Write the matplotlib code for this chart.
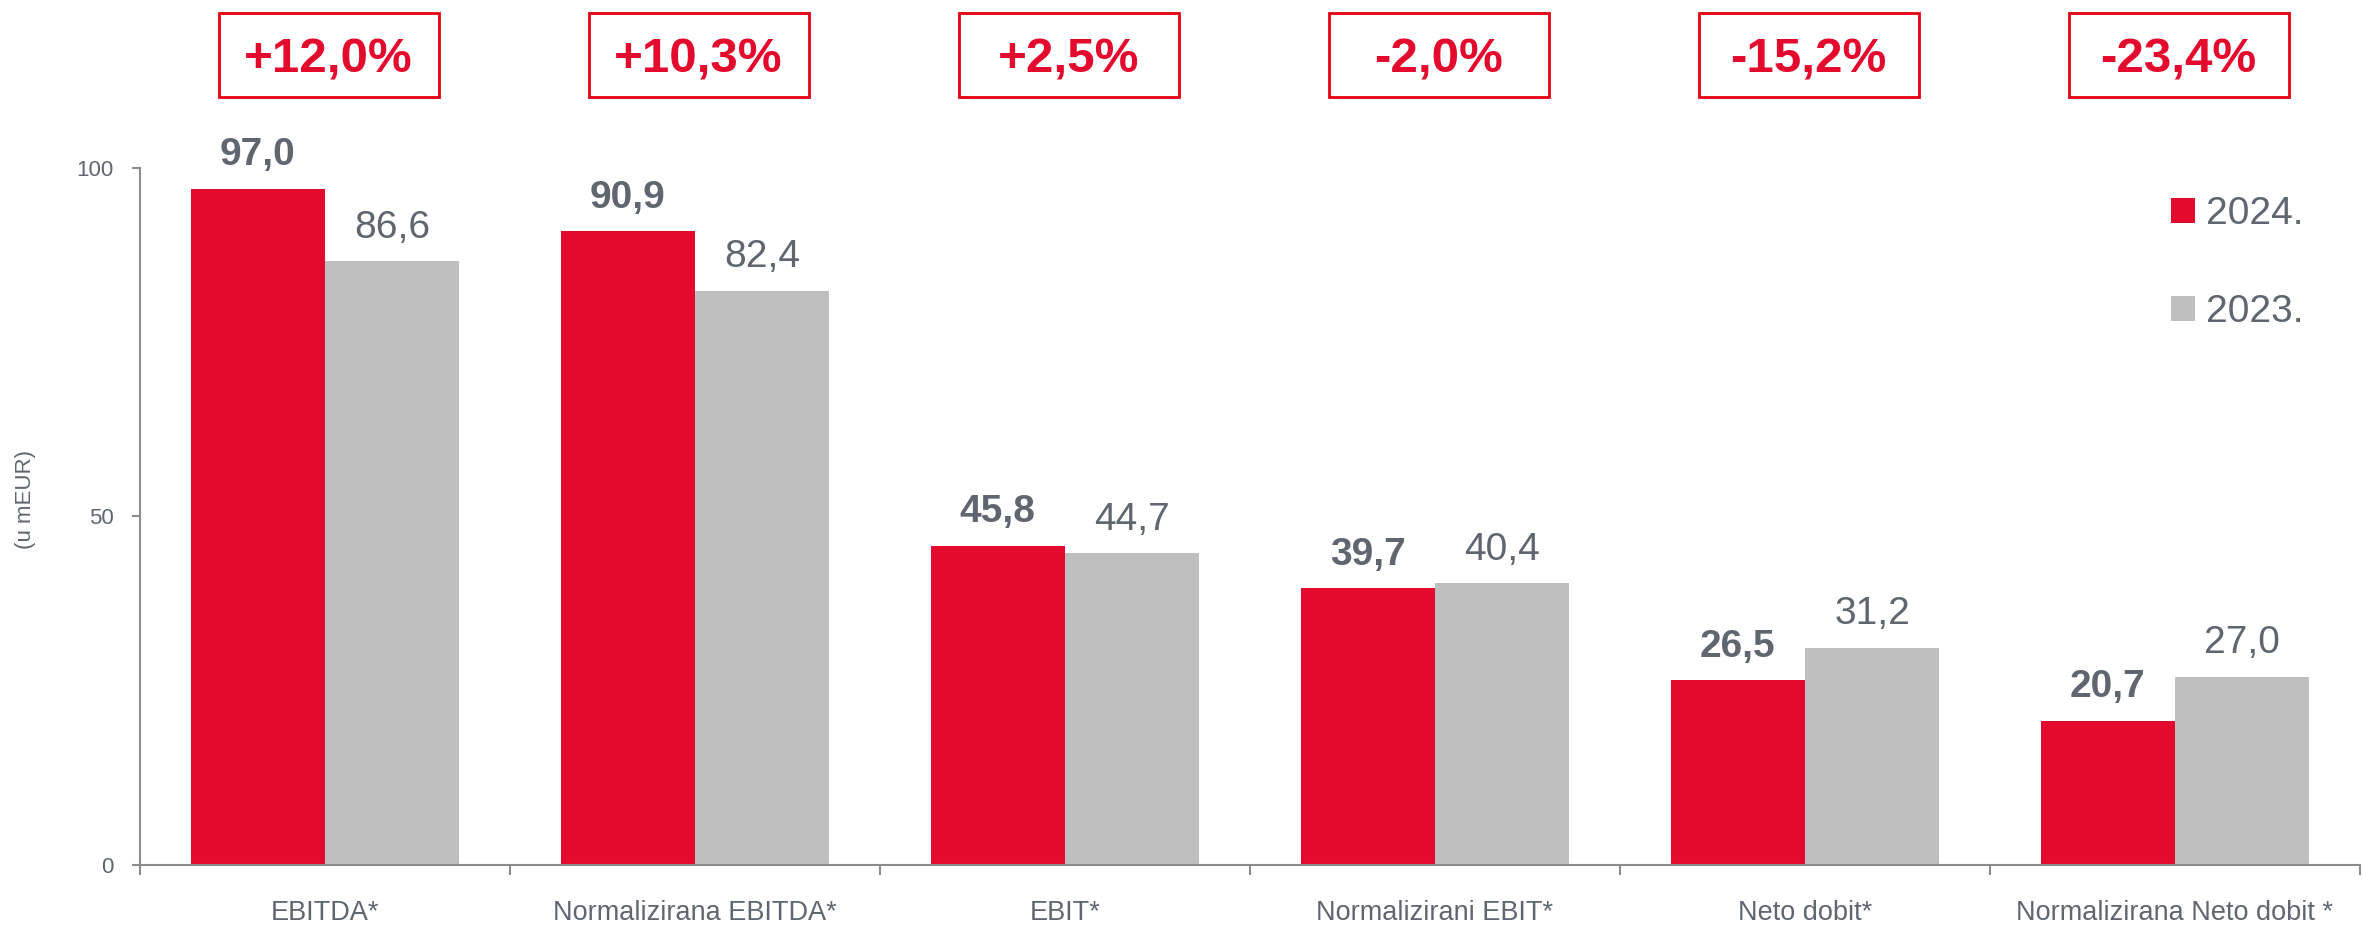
import matplotlib.pyplot as plt
from matplotlib.patches import Rectangle
from matplotlib.transforms import blended_transform_factory
import numpy as np

categories = [
    "EBITDA*",
    "Normalizirana EBITDA*",
    "EBIT*",
    "Normalizirani EBIT*",
    "Neto dobit*",
    "Normalizirana Neto dobit *",
]
values_2024 = [97.0, 90.9, 45.8, 39.7, 26.5, 20.7]
values_2023 = [86.6, 82.4, 44.7, 40.4, 31.2, 27.0]
changes = ["+12,0%", "+10,3%", "+2,5%", "-2,0%", "-15,2%", "-23,4%"]
series_labels = ["2024.", "2023."]

RED = "#E40A2D"
BOX_RED = "#E3000F"
GREY_BAR = "#BFBFBF"
TEXT = "#5F6670"
AXIS = "#8C8C8C"
FONT = ["Liberation Sans", "DejaVu Sans"]

plt.rcParams["font.family"] = FONT


def fmt(v):
    return f"{v:.1f}".replace(".", ",")


fig = plt.figure(figsize=(23.63, 9.31), dpi=100)
ax = fig.add_axes([0.0592, 0.0709, 0.9395, 0.7487])

x = np.arange(len(categories))
width = 0.363

ax.bar(x - width / 2, values_2024, width, color=RED, label=series_labels[0])
ax.bar(x + width / 2, values_2023, width, color=GREY_BAR, label=series_labels[1])

ax.set_xlim(-0.5, len(categories) - 0.5)
ax.set_ylim(0, 100)

# value labels above each bar
for xi, v in zip(x, values_2024):
    ax.annotate(fmt(v), (xi - width / 2, v), xytext=(0, 17), textcoords="offset points",
                ha="center", va="baseline", fontsize=28, fontweight="bold", color=TEXT)
for xi, v in zip(x, values_2023):
    ax.annotate(fmt(v), (xi + width / 2, v), xytext=(0, 17), textcoords="offset points",
                ha="center", va="baseline", fontsize=28, color=TEXT)

# percentage change boxes above the plot
trans = blended_transform_factory(ax.transData, ax.transAxes)
box_w = 0.595
for xi, ch in zip(x, changes):
    cx = xi + 0.01
    ax.add_patch(Rectangle((cx - box_w / 2, 1.1018), box_w, 0.1205, transform=trans,
                           fill=False, edgecolor=BOX_RED, linewidth=2.0, clip_on=False))
    ax.text(cx, 1.162, ch, transform=trans, ha="center", va="center_baseline",
            fontsize=35.5, fontweight="bold", color=RED)

# axes styling
for side in ["top", "right"]:
    ax.spines[side].set_visible(False)
for side in ["left", "bottom"]:
    ax.spines[side].set_color(AXIS)
    ax.spines[side].set_linewidth(1.5)

ax.set_yticks([0, 50, 100])
ax.set_yticklabels(["0", "50", "100"], fontsize=16, color=TEXT)
ax.tick_params(axis="y", length=6, width=1.5, color=AXIS, pad=13)

ax.set_xticks(x)
ax.set_xticklabels(categories, fontsize=19.5, color=TEXT)
ax.tick_params(axis="x", which="major", length=0, pad=25)
ax.set_xticks(np.arange(len(categories) + 1) - 0.5, minor=True)
ax.tick_params(axis="x", which="minor", length=7, width=1.5, color=AXIS)

fig.text(0.011, 0.464, "(u mEUR)", rotation=90, ha="center", va="center",
         fontsize=16, color=TEXT)

leg = ax.legend(loc="upper left", bbox_to_anchor=(0.9188, 0.7895), bbox_transform=fig.transFigure,
                frameon=False, handlelength=0.62, handleheight=0.62, handletextpad=0.28,
                labelspacing=1.6, borderpad=0, borderaxespad=0, prop={"size": 28})
for t in leg.get_texts():
    t.set_color(TEXT)

fig.savefig("out.png", dpi=100)
